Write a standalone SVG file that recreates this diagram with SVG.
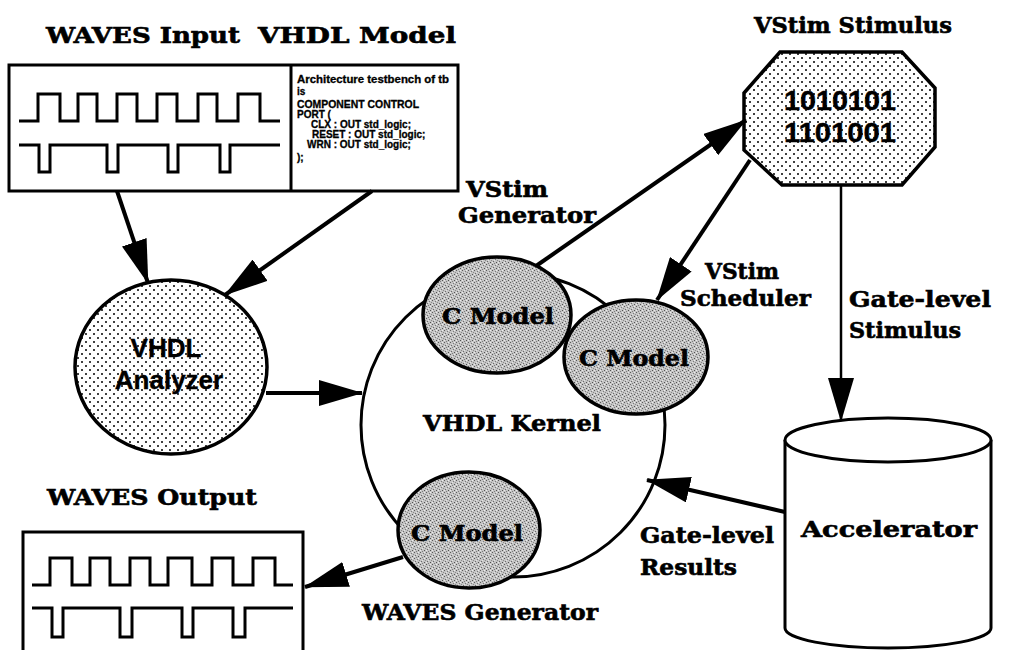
<svg xmlns="http://www.w3.org/2000/svg" width="1010" height="650" viewBox="0 0 1010 650">
  <style>
    .lbl { font-family: "DejaVu Serif", "Liberation Serif", serif; font-weight: bold; font-size: 22px; fill: #000; stroke: #000; stroke-width: 0.6; }
    .sans { font-family: "Liberation Sans", Arial, sans-serif; font-weight: bold; fill: #000; stroke: #000; stroke-width: 0.4; }
    .code { font-family: "Liberation Sans", Arial, sans-serif; font-weight: bold; font-size: 10px; fill: #000; stroke: #000; stroke-width: 0.3; }
    .box { fill: #fff; stroke: #000; stroke-width: 3; }
    .wave { fill: none; stroke: #000; stroke-width: 3; stroke-linejoin: miter; }
    .dotted { fill: url(#dots); stroke: #000; stroke-width: 3.5; }
    .cmodel { fill: url(#grain); stroke: #000; stroke-width: 3.5; }
    .conn { stroke: #000; stroke-width: 4; fill: none; marker-end: url(#head); }
    .conn-thin { stroke: #000; stroke-width: 2.5; fill: none; marker-end: url(#head); }
  </style>
  <defs>
    <!-- stippled fill for analyzer and stimulus shapes -->
    <pattern id="dots" width="8" height="8" patternUnits="userSpaceOnUse">
      <rect width="8" height="8" fill="#fff"/>
      <circle cx="2" cy="2" r="1" fill="#000"/>
      <circle cx="6" cy="6" r="1" fill="#000"/>
    </pattern>
    <!-- grainy grey fill for the C model ellipses -->
    <pattern id="grain" width="6" height="6" patternUnits="userSpaceOnUse">
      <rect width="6" height="6" fill="#c4c4c4"/>
      <rect x="0" y="0" width="1" height="1" fill="#5a5a5a"/>
      <rect x="3" y="1" width="1" height="1" fill="#7a7a7a"/>
      <rect x="1" y="3" width="1" height="1" fill="#6a6a6a"/>
      <rect x="4" y="4" width="1" height="1" fill="#505050"/>
      <rect x="5" y="2" width="1" height="1" fill="#8a8a8a"/>
      <rect x="2" y="5" width="1" height="1" fill="#7c7c7c"/>
      <rect x="4" y="0" width="1" height="1" fill="#eeeeee"/>
      <rect x="0" y="4" width="1" height="1" fill="#ececec"/>
      <rect x="2" y="2" width="1" height="1" fill="#e4e4e4"/>
    </pattern>
    <marker id="head" viewBox="0 0 44 26" refX="43" refY="13" markerWidth="44" markerHeight="26" markerUnits="userSpaceOnUse" orient="auto">
      <path d="M0,0 L44,13 L0,26 z" fill="#000"/>
    </marker>
  </defs>

  <!-- titles -->
  <text class="lbl" x="46" y="43" textLength="194" lengthAdjust="spacingAndGlyphs">WAVES Input</text>
  <text class="lbl" x="258" y="43" textLength="198" lengthAdjust="spacingAndGlyphs">VHDL Model</text>
  <text class="lbl" x="754" y="33" textLength="198" lengthAdjust="spacingAndGlyphs">VStim Stimulus</text>
  <text class="lbl" x="47" y="505" textLength="210" lengthAdjust="spacingAndGlyphs">WAVES Output</text>

  <!-- WAVES input and VHDL model panel -->
  <g id="waves-input">
    <rect class="box" x="9" y="65" width="449" height="126"/>
    <line x1="291" y1="65" x2="291" y2="191" stroke="#000" stroke-width="3"/>
    <path class="wave" d="M19,121 H38 V94 H60 V121 H78 V94 H97 V121 H117 V94 H137 V121 H157 V94 H177 V121 H198 V94 H217 V121 H238 V94 H260 V121 H280"/>
    <path class="wave" d="M19,145 H39 V172 H50 V145 H107 V172 H118 V145 H168 V172 H178 V145 H220 V172 H230 V145 H280"/>
  </g>
  <g id="vhdl-model">
    <text class="code" x="297" y="83" textLength="152" lengthAdjust="spacingAndGlyphs">Architecture testbench of tb</text>
    <text class="code" x="297" y="95">is</text>
    <text class="code" x="297" y="108" textLength="122" lengthAdjust="spacingAndGlyphs">COMPONENT CONTROL</text>
    <text class="code" x="297" y="118">PORT (</text>
    <text class="code" x="311" y="128">CLX : OUT std_logic;</text>
    <text class="code" x="312" y="138">RESET : OUT std_logic;</text>
    <text class="code" x="307" y="148">WRN : OUT std_logic;</text>
    <text class="code" x="297" y="161">);</text>
  </g>

  <!-- VHDL analyzer -->
  <g id="vhdl-analyzer">
    <ellipse class="dotted" cx="171" cy="367" rx="96" ry="87"/>
    <text class="sans" x="166" y="357" font-size="26" text-anchor="middle">VHDL</text>
    <text class="sans" x="169" y="389" font-size="26" text-anchor="middle">Analyzer</text>
  </g>

  <!-- VStim stimulus octagon -->
  <g id="vstim-stimulus">
    <polygon class="dotted" points="780,52 902,52 935,88 935,147 902,185 782,185 744,150 744,93"/>
    <text class="sans" x="840" y="110" font-size="27" text-anchor="middle" textLength="112" lengthAdjust="spacingAndGlyphs">1010101</text>
    <text class="sans" x="840" y="142" font-size="27" text-anchor="middle" textLength="112" lengthAdjust="spacingAndGlyphs">1101001</text>
  </g>

  <!-- VHDL kernel with embedded C models -->
  <g id="vhdl-kernel">
    <circle cx="513" cy="425" r="152" fill="#fff" stroke="#000" stroke-width="3"/>
    <text class="lbl" x="512" y="431" text-anchor="middle" textLength="178" lengthAdjust="spacingAndGlyphs">VHDL Kernel</text>
  </g>
  <g id="c-model-generator">
    <ellipse class="cmodel" cx="497" cy="315" rx="74" ry="58"/>
    <text class="lbl" x="498" y="324" text-anchor="middle" textLength="112" lengthAdjust="spacingAndGlyphs">C Model</text>
  </g>
  <g id="c-model-scheduler">
    <ellipse class="cmodel" cx="636" cy="357" rx="72" ry="57"/>
    <text class="lbl" x="634" y="366" text-anchor="middle" textLength="110" lengthAdjust="spacingAndGlyphs">C Model</text>
  </g>
  <g id="c-model-waves">
    <ellipse class="cmodel" cx="469" cy="530" rx="71" ry="58"/>
    <text class="lbl" x="467" y="541" text-anchor="middle" textLength="112" lengthAdjust="spacingAndGlyphs">C Model</text>
  </g>

  <!-- accelerator cylinder -->
  <g id="accelerator">
    <path d="M785,440 V628 A103,20 0 0 0 991,628 V440" fill="#fff" stroke="#000" stroke-width="3"/>
    <ellipse cx="888" cy="440" rx="103" ry="22" fill="#fff" stroke="#000" stroke-width="3"/>
    <text class="lbl" x="889" y="537" text-anchor="middle" textLength="176" lengthAdjust="spacingAndGlyphs">Accelerator</text>
  </g>

  <!-- WAVES output panel -->
  <g id="waves-output">
    <path d="M23,652 V532 H303 V652" fill="#fff" stroke="#000" stroke-width="3"/>
    <path class="wave" d="M32,585 H50 V558 H72 V585 H90 V558 H110 V585 H130 V558 H150 V585 H168 V558 H192 V585 H212 V558 H233 V585 H253 V558 H275 V585 H293"/>
    <path class="wave" d="M32,608 H52 V637 H63 V608 H120 V637 H132 V608 H182 V637 H193 V608 H233 V637 H245 V608 H293"/>
  </g>

  <!-- connectors -->
  <g id="connectors">
    <line class="conn" x1="117" y1="191" x2="148" y2="283"/>
    <line class="conn" x1="372" y1="191" x2="225" y2="295"/>
    <line class="conn" x1="266" y1="393" x2="362" y2="393"/>
    <line class="conn" x1="536" y1="266" x2="746" y2="120"/>
    <line class="conn" x1="750" y1="160" x2="657" y2="300"/>
    <line class="conn-thin" x1="841" y1="185" x2="841" y2="421"/>
    <line class="conn" x1="785" y1="512" x2="647" y2="480"/>
    <line class="conn" x1="403" y1="557" x2="305" y2="587"/>
  </g>

  <!-- connector labels -->
  <g id="labels">
    <text class="lbl" x="466" y="197" textLength="82" lengthAdjust="spacingAndGlyphs">VStim</text>
    <text class="lbl" x="458" y="223" textLength="138" lengthAdjust="spacingAndGlyphs">Generator</text>
    <text class="lbl" x="705" y="279" textLength="74" lengthAdjust="spacingAndGlyphs">VStim</text>
    <text class="lbl" x="680" y="306" textLength="131" lengthAdjust="spacingAndGlyphs">Scheduler</text>
    <text class="lbl" x="849" y="307" textLength="142" lengthAdjust="spacingAndGlyphs">Gate-level</text>
    <text class="lbl" x="849" y="338" textLength="112" lengthAdjust="spacingAndGlyphs">Stimulus</text>
    <text class="lbl" x="640" y="543" textLength="134" lengthAdjust="spacingAndGlyphs">Gate-level</text>
    <text class="lbl" x="640" y="575" textLength="97" lengthAdjust="spacingAndGlyphs">Results</text>
    <text class="lbl" x="362" y="620" textLength="236" lengthAdjust="spacingAndGlyphs">WAVES Generator</text>
  </g>
</svg>
